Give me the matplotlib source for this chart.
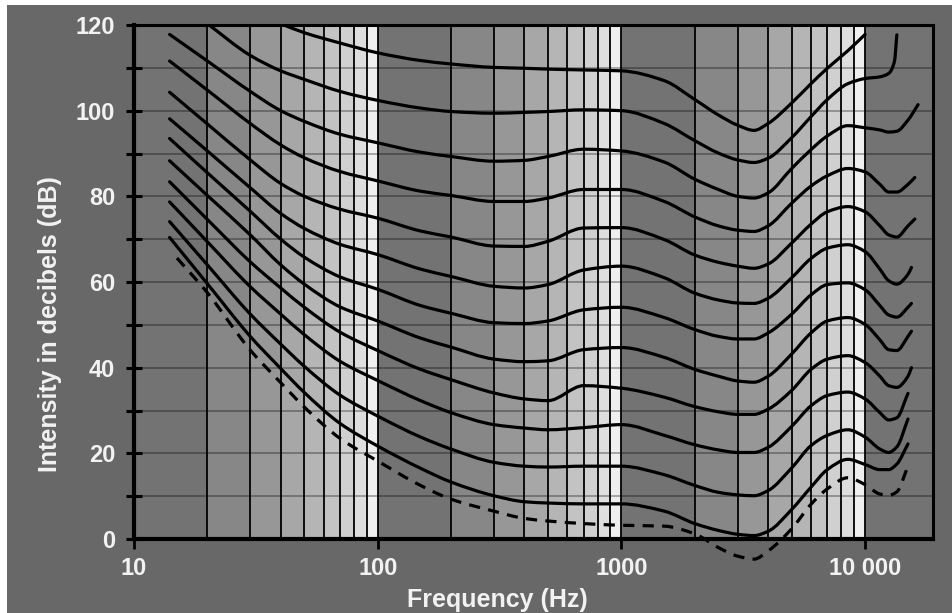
import numpy as np
import matplotlib
matplotlib.use('Agg')
import matplotlib.pyplot as plt
from matplotlib.patches import Rectangle, PathPatch
from matplotlib.path import Path
from matplotlib.ticker import NullLocator

n = np.nan

freq_hz = [14, 15, 20, 30, 40, 50, 70, 100, 150, 200, 300, 400, 500, 700,
           1000, 1500, 2000, 2500, 3000, 3500, 4000, 5000, 6000, 7000, 8500,
           10000, 11500, 12500, 13200, 13500, 15000, 15500, 16000, 16500]

# equal loudness curves, top to bottom (dB)
curve_1 = [n, n, n, n, 120.3, 118.2, 115.8, 113.5, 111.7, 110.9, 110.1, 109.9, 109.7, 109.5,
           109.3, 107, 102.6, 99, 96.6, 95.4, 97, 101.8, 106.3, 109.9, 114,
           117.8, n, n, n, n, n, n, n, n]
curve_2 = [n, n, 120.3, 112.9, 109.3, 107.3, 104.5, 102.4, 100.6, 99.8, 99.4, 99.6, 99.8, 100.2,
           100, 97, 93, 90.1, 88.5, 87.9, 88.9, 93.7, 98.6, 102.6, 106.3,
           107.5, 107.9, 108.7, 111.5, 117.7, n, n, n, n]
curve_3 = [117.8, n, 111.6, 104.5, 100, 97.5, 94.5, 92.5, 90.3, 89.3, 88.2, 88.4, 89.3, 91,
           90.6, 88, 84, 81.6, 80, 79.6, 80.8, 86.5, 90.9, 94.1, 96.5,
           96, 95.5, 95, n, 95.2, 97.8, n, n, 101.4]
curve_4 = [111.6, n, 104.8, 97, 92, 89, 85.8, 83.6, 81.2, 80.2, 78.8, 78.8, 79.6, 81.6,
           81.6, 78.8, 75.2, 73.1, 72.1, 71.8, 73.1, 78.4, 82.4, 84.8, 86.5,
           85.7, 82.8, 81, n, 81, 82.8, n, 84.4, n]
curve_5 = [104.3, n, 96.9, 88.5, 83, 80, 77, 74.9, 71.9, 70.5, 68.4, 68.3, 69.5, 72.6,
           72.7, 69.9, 66.3, 64.6, 63.7, 63.2, 64.2, 69.1, 73.5, 76.4, 77.6,
           76.4, 73.1, 71, n, 70.5, 73.1, n, 74.7, n]
curve_6 = [98.1, n, 90.6, 82, 76, 72.5, 68.8, 66.4, 63, 61.3, 59, 58.6, 59.4, 62.8,
           63.7, 61, 57.4, 55.8, 55.1, 55, 56.2, 61, 65.5, 67.9, 68.7,
           67.1, 63, 60.3, n, 59.5, 61.8, 63.4, n, n]
curve_7 = [93.5, n, 85.5, 76.5, 70, 65.8, 61.2, 58.3, 54.5, 52.7, 50.5, 50.3, 50.9, 53.5,
           54.1, 51.7, 48.9, 47.3, 46.7, 46.7, 48.1, 52.5, 57, 59.4, 59.8,
           58.2, 54.5, 52.3, n, 51.8, 54.1, 55, n, n]
curve_8 = [88.3, n, 80.2, 71, 64, 59.5, 54.2, 50.9, 46.9, 44.8, 42, 41.4, 41.6, 44.2,
           44.7, 42.4, 39.6, 38, 36.9, 36.6, 38, 43.2, 48.1, 50.9, 51.7,
           50.1, 46.5, 44.2, n, 44, 47.3, 48.5, n, n]
curve_9 = [83.4, n, 74.6, 64.7, 58.6, 54.1, 48.3, 44, 39.6, 37.2, 34.1, 32.7, 32.3, 35.8,
           35.2, 33.1, 30.9, 29.7, 29.1, 29.1, 30.3, 34.7, 39.6, 42, 42.8,
           41.2, 38, 35.8, n, 35.4, 38, 40, n, n]
curve_10 = [78.7, n, 69.4, 58.9, 52.5, 47.7, 41.5, 37, 32.3, 29.5, 26.7, 25.9, 25.5, 26,
            26.7, 24.2, 22, 20.8, 20.2, 20.2, 21.4, 26.3, 31.1, 33.5, 34.3,
            32.7, 29.5, 27.8, n, 28.3, 34, n, n, n]
curve_11 = [74.1, n, 64.0, 52.5, 45.5, 40.3, 33.6, 28.7, 23.8, 21, 17.9, 17, 16.8, 17,
            17, 15, 12.5, 10.9, 10.3, 10.1, 11.3, 16.6, 21.8, 24.2, 25.5,
            23.8, 21, 20.2, n, 21.5, 28, n, n, n]
curve_12 = [70.4, n, 59.6, 47.3, 39.8, 34.2, 27, 21.7, 16.5, 13.3, 10.1, 8.7, 8.4, 8.2,
            8.2, 6.5, 3.6, 2, 1.1, 0.8, 1.8, 6.9, 12.1, 16.2, 18.6,
            17.4, 16.2, 16.2, n, 17.5, 22.2, n, n, n]
# threshold of hearing (dashed)
threshold = [n, 65.6, 57.5, 44.1, 36.5, 30.8, 23.5, 18.2, 12.5, 9.3, 6.5, 4.8, 4.2, 3.6,
             3.2, 3.0, 1.2, -2, -4, -4.7, -2.8, 2.4, 8.1, 11.7, 14.3,
             12.7, 10.5, 10.2, n, 11, 17, n, n, n]

solid_curves = [curve_1, curve_2, curve_3, curve_4, curve_5, curve_6, curve_7,
                curve_8, curve_9, curve_10, curve_11, curve_12]

y_ticks = [0, 20, 40, 60, 80, 100, 120]
y_minor = [10, 30, 50, 70, 90, 110]
x_ticks = [10, 100, 1000, 10000]
x_tick_labels = ['10', '100', '1000', '10 000']


def smooth_path(xs, ys):
    # cubic bezier through the read points (pchip-like slopes in log f)
    lx = np.log10(xs)
    h = np.diff(lx)
    d = np.diff(ys) / h
    m = np.zeros_like(ys)
    for i in range(1, len(ys) - 1):
        if d[i - 1] * d[i] > 0:
            w1 = 2 * h[i] + h[i - 1]
            w2 = h[i] + 2 * h[i - 1]
            m[i] = (w1 + w2) / (w1 / d[i - 1] + w2 / d[i])
    m[0] = d[0]
    m[-1] = d[-1]
    verts = [(xs[0], ys[0])]
    codes = [Path.MOVETO]
    for i in range(len(h)):
        verts.append((10 ** (lx[i] + h[i] / 3), ys[i] + m[i] * h[i] / 3))
        verts.append((10 ** (lx[i + 1] - h[i] / 3), ys[i + 1] - m[i + 1] * h[i] / 3))
        verts.append((xs[i + 1], ys[i + 1]))
        codes += [Path.CURVE4] * 3
    return Path(verts, codes)


plt.rcParams['font.family'] = ['Liberation Sans', 'DejaVu Sans']
plt.rcParams['font.weight'] = 'bold'

W, H = 953, 613
fig = plt.figure(figsize=(W / 100, H / 100), dpi=100)
fig.patch.set_facecolor('white')
fig.add_artist(Rectangle((7 / W, 0), 1, (H - 5) / H, transform=fig.transFigure,
                         facecolor='#686868', edgecolor='none', zorder=-10))

ax = fig.add_axes([134 / W, (H - 539) / H, 799 / W, 514 / H])
ax.set_xscale('log')
xmax = 19000
ax.set_xlim(10, xmax)
ax.set_ylim(0, 120)

# shaded bands, lighter towards the end of each decade
band_grays = ['#737373', '#878787', '#979797', '#a7a7a7', '#b5b5b5',
              '#c3c3c3', '#d0d0d0', '#dedede', '#efefef']
for dec in [10, 100, 1000, 10000]:
    for k in range(1, 10):
        lo, hi = k * dec, (k + 1) * dec
        if lo >= xmax:
            break
        ax.axvspan(lo, min(hi, xmax), color=band_grays[k - 1], lw=0, zorder=0)
        if hi < xmax:
            ax.axvline(hi, color='black', lw=1.3, zorder=2)

for v in range(10, 120, 10):
    ax.axhline(v, color='black', alpha=0.33, lw=1.3, zorder=1.5)

f = np.array(freq_hz, dtype=float)
for c in solid_curves:
    y = np.array(c, dtype=float)
    m = ~np.isnan(y)
    ax.add_patch(PathPatch(smooth_path(f[m], y[m]), fill=False, edgecolor='black',
                           lw=2.3, capstyle='round', joinstyle='round', zorder=4))

y = np.array(threshold, dtype=float)
m = ~np.isnan(y)
ax.add_patch(PathPatch(smooth_path(f[m], y[m]), fill=False, edgecolor='black',
                       lw=2.3, linestyle=(0, (3.5, 2.6)), zorder=4, clip_on=False))

for s in ['left', 'bottom']:
    ax.spines[s].set_linewidth(3)
for s in ['top', 'right']:
    ax.spines[s].set_linewidth(2.2)
for s in ax.spines.values():
    s.set_color('black')
    s.set_zorder(5)

ax.set_xlim(10, xmax)
ax.set_ylim(0, 120)
ax.set_xticks(x_ticks)
ax.set_xticklabels(x_tick_labels)
ax.xaxis.set_minor_locator(NullLocator())
ax.set_yticks(y_ticks)
ax.set_yticks(y_minor, minor=True)
ax.tick_params(axis='x', which='major', direction='out', length=7, width=2,
               color='black', labelcolor='#f2f2f2', labelsize=17, pad=6)
ax.tick_params(axis='y', which='both', direction='inout', length=11, width=2.2,
               color='black', labelcolor='#f2f2f2', labelsize=17, pad=8)

fig.text(497 / W, 1 - 600 / H, 'Frequency (Hz)', ha='center', va='center',
         color='#f2f2f2', fontsize=18, fontweight='bold')
fig.text(50 / W, 1 - 324 / H, 'Intensity in decibels (dB)', ha='center', va='center',
         rotation=90, color='#f2f2f2', fontsize=18, fontweight='bold')

fig.savefig('out.png', dpi=100, facecolor=fig.get_facecolor())
